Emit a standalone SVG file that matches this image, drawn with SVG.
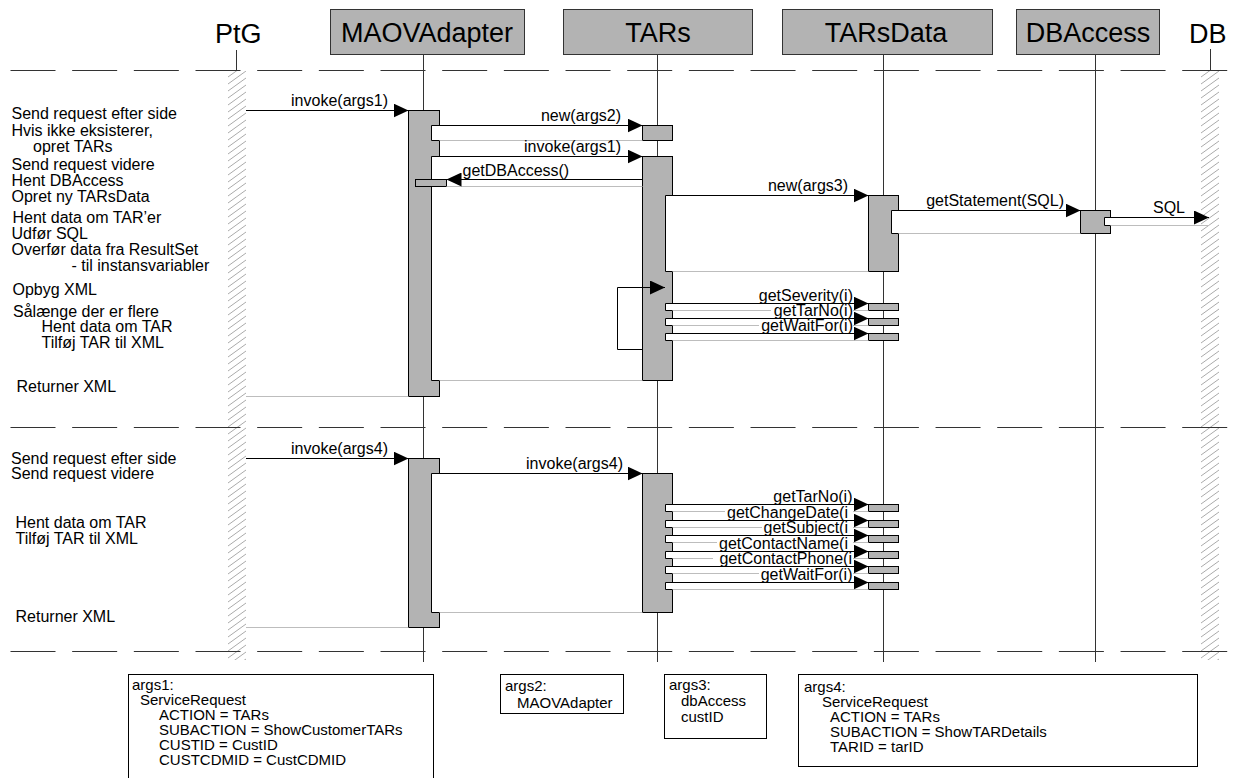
<svg xmlns="http://www.w3.org/2000/svg" width="1237" height="778" viewBox="0 0 1237 778">
<style>
text{font-family:"Liberation Sans",Arial,sans-serif;font-size:16px;fill:#000}
.hdr{font-size:27px}
.end{text-anchor:end}
.mid{text-anchor:middle}
.nt{font-size:15px}
.box{fill:#b3b3b3;stroke:#333;stroke-width:1}
.bar{fill:#b3b3b3;stroke:#000;stroke-width:1}
.notch{fill:#fff;stroke:#000;stroke-width:1}
.life{stroke:#333;stroke-width:1;fill:none}
.call{stroke:#000;stroke-width:1;fill:none;marker-end:url(#ah)}
.ret{stroke:#bdbdbd;stroke-width:1;fill:none}
.dash{stroke:#333;stroke-width:1;stroke-dasharray:45 16.67}
.hatch{fill:url(#hp)}
.lblbg{fill:#fff}
.note{fill:#fff;stroke:#000;stroke-width:1}
</style>
<defs>
<marker id="ah" markerUnits="userSpaceOnUse" markerWidth="15" markerHeight="14" refX="15" refY="7" orient="auto"><path d="M0,0 L15,7 L0,14 z" fill="#000"/></marker>
<pattern id="hp" patternUnits="userSpaceOnUse" width="18" height="7"><path d="M0,13 L18,0 M0,6 L18,-7 M0,20 L18,7" stroke="#aaa" stroke-width="1" fill="none"/></pattern>
</defs>
<rect width="1237" height="778" fill="#fff"/>

<g id="lifelines">
<rect class="hatch" x="0" y="0" width="18" height="589" transform="translate(228,71)"/>
<rect class="hatch" x="0" y="0" width="18" height="589" transform="translate(1201,71)"/>
<path class="life" d="M236.5,50 V71 M1210.5,49 V71 M423.5,54.5 V662 M657.5,54.5 V662 M883.5,54.5 V662 M1095.5,54.5 V662"/>
<path class="dash" d="M10.5,70.5 H1230 M10.5,427.5 H1230 M10.5,651.5 H1230"/>
</g>

<g id="PtG"><text class="hdr" x="215" y="43">PtG</text></g>
<g id="MAOVAdapter"><rect class="box" x="330.5" y="9.5" width="194" height="45"/><text class="hdr mid" x="427" y="42">MAOVAdapter</text></g>
<g id="TARs"><rect class="box" x="563.5" y="9.5" width="189" height="45"/><text class="hdr mid" x="658" y="42">TARs</text></g>
<g id="TARsData"><rect class="box" x="782.5" y="9.5" width="210" height="45"/><text class="hdr mid" x="886" y="42">TARsData</text></g>
<g id="DBAccess"><rect class="box" x="1016.5" y="9.5" width="143" height="45"/><text class="hdr mid" x="1088" y="42">DBAccess</text></g>
<g id="DB"><text class="hdr" x="1189" y="43">DB</text></g>

<g id="activations">
<rect class="bar" x="408.5" y="110.5" width="31" height="286"/>
<path class="notch" d="M440,125.5 H431.5 V140.5 H440"/>
<path class="notch" d="M440,156.5 H431.5 V380.5 H440"/>
<rect class="bar" x="415.5" y="179.5" width="31" height="7"/>
<rect class="bar" x="642.5" y="125.5" width="30" height="15"/>
<rect class="bar" x="642.5" y="156.5" width="30" height="224"/>
<path class="notch" d="M673,195.5 H665.5 V271.5 H673"/>
<path class="notch" d="M673,303.5 H665.5 V310.5 H673"/>
<path class="notch" d="M673,318.5 H665.5 V325.5 H673"/>
<path class="notch" d="M673,333.5 H665.5 V340.5 H673"/>
<rect class="bar" x="868.5" y="195.5" width="30" height="76"/>
<path class="notch" d="M899,210.5 H891.5 V233.5 H899"/>
<rect class="bar" x="1080.5" y="210.5" width="30" height="23"/>
<path class="notch" d="M1111,217.5 H1104.5 V225.5 H1111"/>
<rect class="bar" x="868.5" y="303.5" width="30" height="7"/>
<rect class="bar" x="868.5" y="318.5" width="30" height="7"/>
<rect class="bar" x="868.5" y="333.5" width="30" height="7"/>
<rect class="bar" x="408.5" y="458.5" width="31" height="169"/>
<path class="notch" d="M440,473.5 H431.5 V612.5 H440"/>
<rect class="bar" x="642.5" y="473.5" width="30" height="139"/>
<path class="notch" d="M673,504.5 H665.5 V511.5 H673"/>
<path class="notch" d="M673,520.5 H665.5 V527.5 H673"/>
<path class="notch" d="M673,535.5 H665.5 V542.5 H673"/>
<path class="notch" d="M673,551.5 H665.5 V558.5 H673"/>
<path class="notch" d="M673,566.5 H665.5 V573.5 H673"/>
<path class="notch" d="M673,582.5 H665.5 V589.5 H673"/>
<rect class="bar" x="868.5" y="504.5" width="30" height="7"/>
<rect class="bar" x="868.5" y="520.5" width="30" height="7"/>
<rect class="bar" x="868.5" y="535.5" width="30" height="7"/>
<rect class="bar" x="868.5" y="551.5" width="30" height="7"/>
<rect class="bar" x="868.5" y="566.5" width="30" height="7"/>
<rect class="bar" x="868.5" y="582.5" width="30" height="7"/>
</g>

<g id="connectors">
<path class="ret" d="M246,396.5 H408.5 M439.5,140.5 H642.5 M439.5,380.5 H642.5 M446.5,186.5 H642.5 M672.5,271.5 H868.5 M898.5,233.5 H1080.5 M1110.5,225.5 H1209"/>
<path class="ret" d="M672.5,310.5 H868.5 M672.5,325.5 H868.5 M672.5,340.5 H868.5"/>
<path class="ret" d="M246,627.5 H408.5 M439.5,612.5 H642.5"/>
<path class="ret" d="M672.5,511.5 H868.5 M672.5,527.5 H868.5 M672.5,542.5 H868.5 M672.5,558.5 H868.5 M672.5,573.5 H868.5 M672.5,589.5 H868.5"/>
<rect class="lblbg" x="758" y="290" width="95" height="12"/>
<rect class="lblbg" x="771" y="305" width="82" height="12"/>
<rect class="lblbg" x="759" y="320" width="94" height="12"/>
<rect class="lblbg" x="770" y="491" width="83" height="12"/>
<rect class="lblbg" x="725" y="507" width="128" height="12"/>
<rect class="lblbg" x="762" y="522" width="91" height="12"/>
<rect class="lblbg" x="717" y="538" width="136" height="12"/>
<rect class="lblbg" x="713" y="553" width="140" height="12"/>
<rect class="lblbg" x="759" y="569" width="94" height="12"/>
<path class="call" d="M246,110.5 H408.5"/>
<path class="call" d="M439.5,125.5 H642.5"/>
<path class="call" d="M439.5,156.5 H642.5"/>
<path class="call" d="M642.5,179.5 H446.5"/>
<path class="call" d="M672.5,195.5 H868.5"/>
<path class="call" d="M898.5,210.5 H1080.5"/>
<path class="call" d="M1110.5,217.5 H1209"/>
<path class="call" d="M642.5,349.5 H617.5 V287.5 H665"/>
<path class="call" d="M672.5,303.5 H868.5"/>
<path class="call" d="M672.5,318.5 H868.5"/>
<path class="call" d="M672.5,333.5 H868.5"/>
<path class="call" d="M246,458.5 H408.5"/>
<path class="call" d="M439.5,473.5 H642.5"/>
<path class="call" d="M672.5,504.5 H868.5"/>
<path class="call" d="M672.5,520.5 H868.5"/>
<path class="call" d="M672.5,535.5 H868.5"/>
<path class="call" d="M672.5,551.5 H868.5"/>
<path class="call" d="M672.5,566.5 H868.5"/>
<path class="call" d="M672.5,582.5 H868.5"/>
<text class="end" x="388" y="105.5">invoke(args1)</text>
<text class="end" x="621" y="121">new(args2)</text>
<text class="end" x="621" y="151.5">invoke(args1)</text>
<text x="462.5" y="175.5">getDBAccess()</text>
<text class="end" x="848" y="191">new(args3)</text>
<text class="end" x="1064" y="206">getStatement(SQL)</text>
<text class="end" x="1185" y="213">SQL</text>
<text class="end" x="853" y="301">getSeverity(i)</text>
<text class="end" x="853" y="316">getTarNo(i)</text>
<text class="end" x="853" y="331">getWaitFor(i)</text>
<text class="end" x="388" y="453.5">invoke(args4)</text>
<text class="end" x="623" y="468.5">invoke(args4)</text>
<text class="end" x="852.5" y="502">getTarNo(i)</text>
<text class="end" x="848" y="518">getChangeDate(i</text>
<text class="end" x="848" y="533">getSubject(i</text>
<text class="end" x="848" y="549">getContactName(i</text>
<text class="end" x="852" y="564">getContactPhone(i</text>
<text class="end" x="852.5" y="580">getWaitFor(i)</text>
</g>

<g id="notes-left">
<text x="11.5" y="119">Send request efter side</text>
<text x="11.5" y="136">Hvis ikke eksisterer,</text>
<text x="33" y="152">opret TARs</text>
<text x="11.5" y="170">Send request videre</text>
<text x="11.5" y="186">Hent DBAccess</text>
<text x="11.5" y="202">Opret ny TARsData</text>
<text x="12.5" y="223">Hent data om TAR’er</text>
<text x="11.5" y="239">Udfør SQL</text>
<text x="11.5" y="255">Overfør data fra ResultSet</text>
<text x="71.5" y="271">- til instansvariabler</text>
<text x="12.5" y="295">Opbyg XML</text>
<text x="13" y="317">Sålænge der er flere</text>
<text x="41.5" y="332">Hent data om TAR</text>
<text x="41.5" y="348">Tilføj TAR til XML</text>
<text x="16.5" y="392">Returner XML</text>
<text x="11" y="464">Send request efter side</text>
<text x="11" y="479">Send request videre</text>
<text x="15.5" y="528">Hent data om TAR</text>
<text x="15.5" y="544">Tilføj TAR til XML</text>
<text x="15.5" y="622">Returner XML</text>
</g>

<g id="args1"><rect class="note" x="128.5" y="674.5" width="305" height="120"/>
<text class="nt" x="132" y="690">args1:</text><text class="nt" x="140" y="705">ServiceRequest</text><text class="nt" x="159" y="720">ACTION = TARs</text><text class="nt" x="159" y="735">SUBACTION = ShowCustomerTARs</text><text class="nt" x="159" y="750">CUSTID = CustID</text><text class="nt" x="159" y="765">CUSTCDMID = CustCDMID</text></g>
<g id="args2"><rect class="note" x="500.5" y="674.5" width="123" height="39"/>
<text class="nt" x="505" y="691">args2:</text><text class="nt" x="517" y="708">MAOVAdapter</text></g>
<g id="args3"><rect class="note" x="664.5" y="674.5" width="102" height="64"/>
<text class="nt" x="669" y="690">args3:</text><text class="nt" x="681" y="706">dbAccess</text><text class="nt" x="681" y="722">custID</text></g>
<g id="args4"><rect class="note" x="798.5" y="674.5" width="399" height="92"/>
<text class="nt" x="804" y="692">args4:</text><text class="nt" x="822" y="707">ServiceRequest</text><text class="nt" x="830" y="722">ACTION = TARs</text><text class="nt" x="830" y="737">SUBACTION = ShowTARDetails</text><text class="nt" x="830" y="752">TARID = tarID</text></g>
</svg>
